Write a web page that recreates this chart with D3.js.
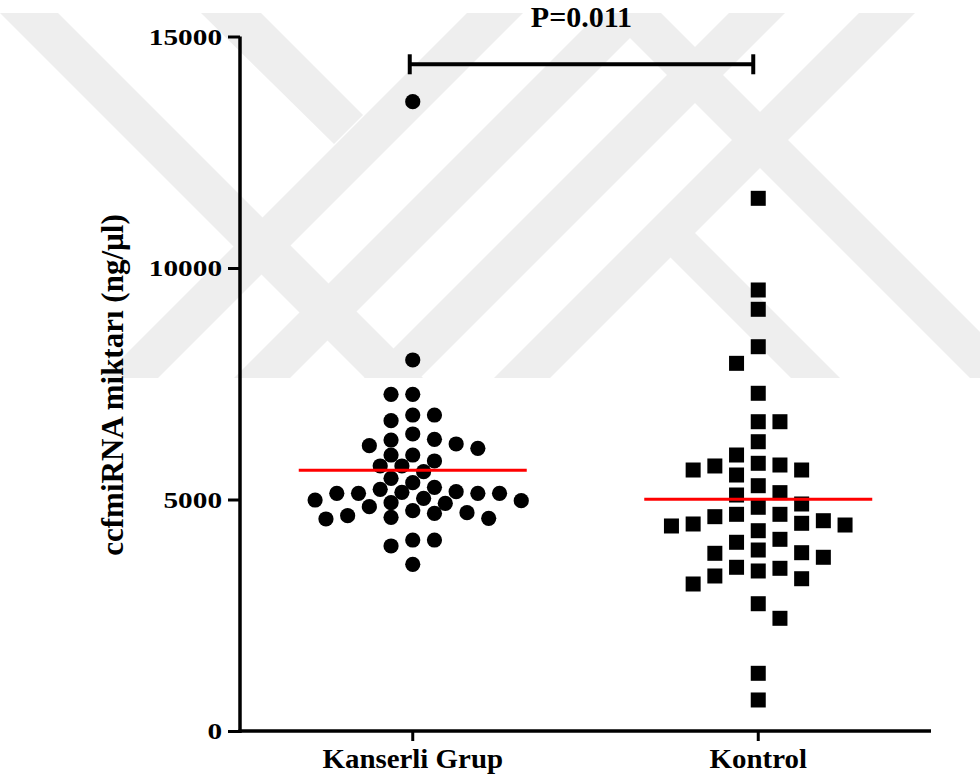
<!DOCTYPE html>
<html><head><meta charset="utf-8">
<script src="https://cdn.jsdelivr.net/npm/d3@7"></script>
<style>body{margin:0;background:#fff}svg{display:block}</style>
</head><body>
<svg id="chart" width="980" height="780"></svg>
<script>
// ---- data ----
const categories = ["Kanserli Grup", "Kontrol"];
const kanserliValues = [13592, 8013, 7272, 7272, 6825, 6702, 6825, 6415, 6285, 6162, 6106, 6199, 6300,
  5961, 5961, 5724, 5600, 5724, 5832, 5458, 5263, 4918, 5169, 4758, 5133, 4700, 5026, 5133, 4614,
  4974, 5133, 4579, 4931, 5133, 4593, 4989, 5155, 4650, 5220, 4715, 5363, 4845, 4125, 4125, 3996, 3600];
const kontrolValues = [11505, 9525, 9108, 8300, 7941, 7294, 6680, 6680, 6248, 5782, 5724, 5637, 5529,
  5637, 5745, 5961, 5298, 5097, 5148, 4832, 4903, 4680, 4542, 4471, 4428, 4326, 4449, 4486, 4629, 4680,
  4076, 4140, 3851, 3752, 3838, 3909, 3536, 3456, 3289, 3175, 3348, 3514, 2749, 2434, 1246, 670];
const yTicks = [0, 5000, 10000, 15000];
const yDomain = [0, 15000];
const pLabel = "P=0.011";
const bracketValue = 14400;
const yLabel = "ccfmiRNA miktarı (ng/µl)";

// ---- setup ----
const FONT = "'Liberation Serif','Times New Roman',serif";
const svg = d3.select("#chart");
const y = d3.scaleLinear().domain(yDomain).range([731, 36.5]);
const x = d3.scaleBand().domain(categories).range([240, 931]).padding(0);
const cx = c => x(c) + x.bandwidth() / 2;

// ---- background watermark (approximate) ----
const T = 13, B = 378;
const wm = svg.append("g").attr("fill", "#eeeeee");
const poly = pts => wm.append("polygon").attr("points", pts.map(p => p.join(",")).join(" "));
const back = (a, b) => poly([[a + T, T], [b + T, T], [b + B, B], [a + B, B]]);   // "\" band, x-y in [a,b]
const fwd = (a, b) => poly([[a - T, T], [b - T, T], [b - B, B], [a - B, B]]);    // "/" band, x+y in [a,b]
back(-13, 45);
fwd(480, 536);
fwd(612, 668);
fwd(742, 798);
fwd(872, 928);
back(592, 648);
poly([[201, T], [261, T], [363, 115], [334, 144]]);
poly([[669, 256], [693.5, 231.5], [840, B], [791, B]]);
wm.attr("clip-path", "url(#wmclip)");
svg.append("defs").append("clipPath").attr("id", "wmclip")
  .append("rect").attr("x", 0).attr("y", T).attr("width", 980).attr("height", B - T);

// ---- axes ----
const yAxis = svg.append("g").attr("transform", "translate(240,0)")
  .call(d3.axisLeft(y).tickValues(yTicks).tickSize(12).tickSizeOuter(0).tickPadding(6).tickFormat(d3.format("d")));
const xAxis = svg.append("g").attr("transform", "translate(0,731)")
  .call(d3.axisBottom(x).tickSize(10).tickSizeOuter(0).tickPadding(10));
[yAxis, xAxis].forEach(g => {
  g.select(".domain").attr("stroke", "#000").attr("stroke-width", 3.5);
  g.selectAll(".tick line").attr("stroke", "#000").attr("stroke-width", 3);
});
yAxis.select(".domain").attr("d", "M0,36.5V733");
xAxis.select(".domain").attr("d", "M238.5,0H931");
yAxis.selectAll(".tick text").attr("fill", "#000")
  .style("font-family", FONT).style("font-weight", "bold").style("font-size", "24px")
  .each(function () { const n = this.getComputedTextLength(); d3.select(this).attr("textLength", n * 1.22).attr("lengthAdjust", "spacingAndGlyphs"); });
xAxis.selectAll(".tick text").attr("fill", "#000")
  .style("font-family", FONT).style("font-weight", "bold").style("font-size", "27px")
  .attr("dy", "0.71em").attr("y", 18)
  .each(function () { const n = this.getComputedTextLength(); d3.select(this).attr("textLength", n * 1.07).attr("lengthAdjust", "spacingAndGlyphs"); });

// y label
svg.append("text").attr("transform", "translate(123,385) rotate(-90)")
  .attr("text-anchor", "middle").style("font-family", FONT).style("font-weight", "bold")
  .style("font-size", "31px").text(yLabel);

// ---- swarm layout (grid columns, distance-based collision) ----
function swarm(values, step, minDist) {
  const order = values.map((v, i) => ({ v, i })).sort((a, b) => b.v - a.v);
  const placed = [];
  const offs = new Array(values.length);
  let left = 0, right = 0;
  for (const o of order) {
    const py = y(o.v);
    const ok = dx => placed.every(p => Math.hypot(p.dx - dx, p.py - py) >= minDist);
    let chosen = null;
    if (ok(0)) chosen = 0;
    for (let k = 1; chosen === null; k++) {
      const first = left <= right ? -k * step : k * step;
      if (ok(first)) chosen = first; else if (ok(-first)) chosen = -first;
    }
    if (chosen < 0) left++; else if (chosen > 0) right++;
    placed.push({ dx: chosen, py });
    offs[o.i] = chosen;
  }
  return offs;
}
const off1 = swarm(kanserliValues, 10.85, 14.5);
const off2 = swarm(kontrolValues, 21.7, 19);

svg.append("g").selectAll("circle").data(kanserliValues).join("circle")
  .attr("cx", (d, i) => cx(categories[0]) + off1[i]).attr("cy", d => y(d))
  .attr("r", 7.6).attr("fill", "#000");
const S = 15;
svg.append("g").selectAll("rect").data(kontrolValues).join("rect")
  .attr("x", (d, i) => cx(categories[1]) + off2[i] - S / 2).attr("y", d => y(d) - S / 2)
  .attr("width", S).attr("height", S).attr("fill", "#000");

// mean lines
const means = [d3.mean(kanserliValues), d3.mean(kontrolValues)];
svg.append("g").selectAll("line").data(means).join("line")
  .attr("x1", (d, i) => cx(categories[i]) - 114).attr("x2", (d, i) => cx(categories[i]) + 114)
  .attr("y1", d => y(d)).attr("y2", d => y(d))
  .attr("stroke", "#ff0000").attr("stroke-width", 3);

// significance bracket
const by = y(bracketValue);
const br = svg.append("g").attr("stroke", "#000").attr("stroke-width", 4);
br.append("line").attr("x1", cx(categories[0]) - 3).attr("x2", cx(categories[1]) - 5).attr("y1", by).attr("y2", by);
[cx(categories[0]) - 3, cx(categories[1]) - 5].forEach(bx => {
  br.append("line").attr("x1", bx).attr("x2", bx).attr("y1", by - 10).attr("y2", by + 10);
});
svg.append("text").attr("x", (cx(categories[0]) + cx(categories[1])) / 2 - 4).attr("y", 27)
  .attr("text-anchor", "middle").style("font-family", FONT).style("font-weight", "bold")
  .style("font-size", "30px").text(pLabel);
</script>
</body></html>
